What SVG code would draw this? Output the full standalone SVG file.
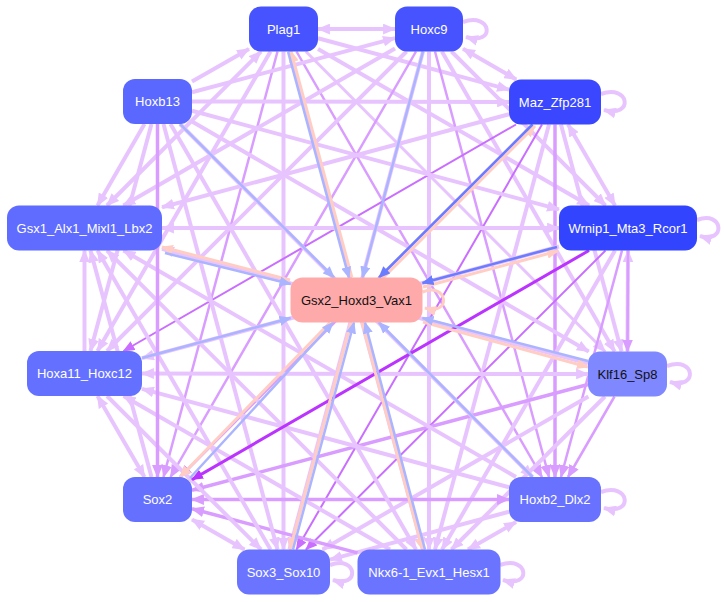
<svg xmlns="http://www.w3.org/2000/svg" width="728" height="602" viewBox="0 0 728 602">
<defs>
<marker id="mL" viewBox="0 0 12 10" refX="11" refY="5" markerWidth="13" markerHeight="11" markerUnits="userSpaceOnUse" orient="auto-start-reverse"><path d="M0,0L12,5L0,10z" fill="#e8c4ff"/></marker>
<marker id="mM" viewBox="0 0 12 10" refX="11" refY="5" markerWidth="13" markerHeight="11" markerUnits="userSpaceOnUse" orient="auto-start-reverse"><path d="M0,0L12,5L0,10z" fill="#d99cff"/></marker>
<marker id="mD" viewBox="0 0 12 10" refX="11" refY="5" markerWidth="12" markerHeight="10" markerUnits="userSpaceOnUse" orient="auto-start-reverse"><path d="M0,0L12,5L0,10z" fill="#c96eff"/></marker>
<marker id="mV" viewBox="0 0 12 10" refX="11" refY="5" markerWidth="12" markerHeight="10" markerUnits="userSpaceOnUse" orient="auto-start-reverse"><path d="M0,0L12,5L0,10z" fill="#bb33ff"/></marker>
<marker id="mB" viewBox="0 0 12 10" refX="11" refY="5" markerWidth="12" markerHeight="10" markerUnits="userSpaceOnUse" orient="auto-start-reverse"><path d="M0,0L12,5L0,10z" fill="#aab4ff"/></marker>
<marker id="mBD" viewBox="0 0 12 10" refX="11" refY="5" markerWidth="12" markerHeight="10" markerUnits="userSpaceOnUse" orient="auto-start-reverse"><path d="M0,0L12,5L0,10z" fill="#6a7dff"/></marker>
<marker id="mP" viewBox="0 0 12 10" refX="11" refY="5" markerWidth="12" markerHeight="10" markerUnits="userSpaceOnUse" orient="auto-start-reverse"><path d="M0,0L12,5L0,10z" fill="#ffcdc3"/></marker>
</defs>
<style>
#connectors line,#connectors path{fill:none}
.l{stroke:#e8c4ff;stroke-width:4;marker-end:url(#mL)}
.l2{stroke:#e8c4ff;stroke-width:3;marker-end:url(#mL)}
.m{stroke:#d99cff;stroke-width:3.5;marker-end:url(#mM)}
.m2{stroke:#d99cff;stroke-width:2.5;marker-end:url(#mM)}
.d{stroke:#c96eff;stroke-width:2;marker-end:url(#mD)}
.v{stroke:#bb33ff;stroke-width:3;marker-end:url(#mV)}
.b{stroke:#aab4ff;stroke-width:2.5;marker-end:url(#mB)}
.bd{stroke:#6a7dff;stroke-width:2.5;marker-end:url(#mBD)}
.p{stroke:#ffcdc3;stroke-width:3;marker-end:url(#mP)}
.s.l,.s.l2{marker-start:url(#mL)}
.s.m{marker-start:url(#mM)}
.node text{font-family:"Liberation Sans",Arial,sans-serif;font-size:13px;text-anchor:middle;fill:#ffffff}
.node text.k{fill:#111111}
</style>
<rect width="728" height="602" fill="#ffffff"/>
<g id="connectors">
<line class="l s" x1="318" y1="29" x2="395" y2="29"/>
<line class="l" x1="318" y1="38.3" x2="509" y2="89.6"/>
<line class="l" x1="318" y1="48.9" x2="589.1" y2="205.5"/>
<line class="l2" x1="305.9" y1="51.5" x2="605.1" y2="351.5"/>
<line class="m2" x1="296.5" y1="51.5" x2="542" y2="477"/>
<line class="l" x1="289.5" y1="51.5" x2="423" y2="549.5"/>
<line class="l" x1="283.5" y1="51.5" x2="283.5" y2="549.5"/>
<line class="m2" x1="277.5" y1="51.5" x2="163.5" y2="477"/>
<line class="l" x1="270.5" y1="51.5" x2="97.5" y2="351"/>
<line class="l s" x1="261" y1="51.5" x2="107" y2="205.5"/>
<line class="l" x1="192" y1="81.6" x2="249" y2="48.9"/>
<line class="l s" x1="463" y1="48.7" x2="516.2" y2="79.5"/>
<line class="l" x1="451.5" y1="51.5" x2="605.5" y2="205.5"/>
<line class="l" x1="441.9" y1="51.5" x2="614.6" y2="351.5"/>
<line class="m2" x1="435" y1="51.5" x2="549" y2="477"/>
<line class="l" x1="429" y1="51.5" x2="429" y2="549.5"/>
<line class="l" x1="423" y1="51.5" x2="289.5" y2="549.5"/>
<line class="m2" x1="416" y1="51.5" x2="170.5" y2="477"/>
<line class="l" x1="406.5" y1="51.5" x2="107" y2="351"/>
<line class="l" x1="395" y1="48.6" x2="123.4" y2="205.5"/>
<line class="l" x1="192" y1="92.3" x2="395" y2="38.1"/>
<line class="l s" x1="568" y1="124.5" x2="615" y2="205.5"/>
<line class="l" x1="561" y1="124.5" x2="621.5" y2="351.5"/>
<line class="m" x1="555" y1="124.5" x2="555" y2="477"/>
<line class="l" x1="549" y1="124.5" x2="435" y2="549.5"/>
<line class="d" x1="542" y1="124.5" x2="296.5" y2="549.5"/>
<line class="m2" x1="532.5" y1="124.5" x2="180" y2="477"/>
<line class="d" x1="516" y1="124.5" x2="123.5" y2="351"/>
<line class="l" x1="509" y1="114.3" x2="162" y2="207.2"/>
<line class="l" x1="192" y1="101.5" x2="509" y2="102"/>
<line class="l" x1="627.5" y1="351.5" x2="628" y2="250.5"/>
<line class="m2" x1="628" y1="250.5" x2="627.5" y2="351.5"/>
<line class="m2" x1="622" y1="250.5" x2="561" y2="477"/>
<line class="l" x1="615" y1="250.5" x2="442" y2="549.5"/>
<line class="d" x1="605.5" y1="250.5" x2="306" y2="549.5"/>
<line class="l" x1="559" y1="246.5" x2="142" y2="358.1"/>
<line class="l s" x1="559" y1="228" x2="162" y2="228"/>
<line class="l" x1="192" y1="110.8" x2="559" y2="209.4"/>
<line class="m2" x1="614.5" y1="396.5" x2="568" y2="477"/>
<line class="l" x1="605" y1="396.5" x2="451.5" y2="549.5"/>
<line class="l" x1="588.4" y1="396.5" x2="322.6" y2="549.5"/>
<line class="m" x1="588" y1="384.5" x2="192" y2="490.3"/>
<line class="l s" x1="588" y1="374" x2="142" y2="373.5"/>
<line class="l" x1="588" y1="363.4" x2="162" y2="248.8"/>
<line class="l" x1="192" y1="121.5" x2="588.7" y2="351.5"/>
<line class="l s" x1="516" y1="522" x2="468" y2="549.5"/>
<line class="l" x1="509" y1="511.8" x2="330" y2="559.6"/>
<line class="m s" x1="509" y1="499.5" x2="192" y2="499.5"/>
<line class="l" x1="509" y1="487.2" x2="142" y2="388.9"/>
<line class="l" x1="516" y1="477" x2="123.5" y2="250.5"/>
<line class="l" x1="180" y1="124" x2="532.5" y2="477"/>
<line class="m" x1="357.5" y1="552.9" x2="192" y2="508.7"/>
<line class="l" x1="390" y1="549.5" x2="123.6" y2="396"/>
<line class="l" x1="406.5" y1="549.5" x2="107" y2="250.5"/>
<line class="l" x1="170.5" y1="124" x2="416" y2="549.5"/>
<line class="l s" x1="244.4" y1="549.5" x2="192" y2="519.4"/>
<line class="l" x1="107" y1="396" x2="261" y2="549.5"/>
<line class="l" x1="270.5" y1="549.5" x2="97.5" y2="250.5"/>
<line class="l" x1="163.5" y1="124" x2="277.5" y2="549.5"/>
<line class="l s" x1="144.5" y1="477" x2="97.5" y2="396"/>
<line class="l" x1="151.5" y1="477" x2="90.5" y2="250.5"/>
<line class="m" x1="157.5" y1="124" x2="157.5" y2="477"/>
<line class="l" x1="84.5" y1="351" x2="84.5" y2="250.5"/>
<line class="l" x1="151.5" y1="124" x2="90.5" y2="351"/>
<line class="l" x1="144.5" y1="124" x2="97.5" y2="205.5"/>
<line class="v" x1="589" y1="250.5" x2="192" y2="479.6"/>
<path class="l" d="M463,22C492,12 496,46 466,37"/>
<path class="l" d="M601,94C630,84 634,118 604,110"/>
<path class="l" d="M697,220C724,210 726,244 700,236"/>
<path class="l" d="M667,366C696,356 698,390 670,382"/>
<path class="l" d="M601,492C630,482 634,516 604,508"/>
<path class="l" d="M330,565C358,555 360,589 333,580"/>
<path class="l" d="M500,565C529,555 532,589 503,580"/>
<line class="b" x1="180" y1="124" x2="334" y2="277.5"/>
<line class="p" x1="351.8" y1="277.1" x2="291" y2="51.1"/>
<line class="b" x1="288.1" y1="51.9" x2="349" y2="277.9"/>
<line class="b" x1="423" y1="51.5" x2="362.5" y2="277.5"/>
<line class="p" x1="382" y1="279" x2="535" y2="126"/>
<line class="bd" x1="532.5" y1="124.5" x2="379" y2="277.5"/>
<line class="p" x1="423" y1="287" x2="558" y2="251"/>
<line class="bd" x1="557" y1="247" x2="422.5" y2="283"/>
<line class="p" x1="290" y1="280" x2="162" y2="247"/>
<line class="b" x1="165" y1="253" x2="290.5" y2="284"/>
<line class="b" x1="142" y1="358" x2="290.5" y2="318"/>
<line class="p" x1="423" y1="322" x2="588" y2="367"/>
<line class="b" x1="588" y1="361" x2="422.5" y2="318"/>
<line class="b" x1="532.6" y1="477" x2="378.9" y2="322.5"/>
<line class="p" x1="362" y1="322.5" x2="422.5" y2="549.5"/>
<line class="b" x1="425" y1="549.5" x2="365" y2="322.5"/>
<line class="p" x1="351" y1="322.5" x2="290" y2="549.5"/>
<line class="b" x1="293" y1="549.5" x2="354" y2="322.5"/>
<line class="p" x1="330" y1="322.5" x2="180" y2="477"/>
<line class="b" x1="190" y1="478" x2="333" y2="322.5"/>
<path class="p" d="M422.5,292C448,282 452,316 425,308"/>
</g>
<g id="Plag1" class="node"><rect x="249" y="6.5" width="69" height="45" rx="12" fill="#4653ff"/><text x="283.5" y="33.5">Plag1</text></g>
<g id="Hoxc9" class="node"><rect x="395" y="6.5" width="68" height="45" rx="12" fill="#4653ff"/><text x="429" y="33.5">Hoxc9</text></g>
<g id="Maz_Zfp281" class="node"><rect x="509" y="79.5" width="92" height="45" rx="12" fill="#3a47ff"/><text x="555" y="106.5">Maz_Zfp281</text></g>
<g id="Wrnip1_Mta3_Rcor1" class="node"><rect x="559" y="205.5" width="138" height="45" rx="12" fill="#3344ff"/><text x="628" y="232.5">Wrnip1_Mta3_Rcor1</text></g>
<g id="Klf16_Sp8" class="node"><rect x="588" y="351.5" width="79" height="45" rx="12" fill="#7f88ff"/><text class="k" x="627.5" y="378.5">Klf16_Sp8</text></g>
<g id="Hoxb2_Dlx2" class="node"><rect x="509" y="477" width="92" height="45" rx="12" fill="#6872ff"/><text x="555" y="504">Hoxb2_Dlx2</text></g>
<g id="Nkx6-1_Evx1_Hesx1" class="node"><rect x="357.5" y="549.5" width="143" height="45" rx="12" fill="#6a74ff"/><text x="429" y="576.5">Nkx6-1_Evx1_Hesx1</text></g>
<g id="Sox3_Sox10" class="node"><rect x="237" y="549.5" width="93" height="45" rx="12" fill="#6a74ff"/><text x="283.5" y="576.5">Sox3_Sox10</text></g>
<g id="Sox2" class="node"><rect x="123" y="477" width="69" height="45" rx="12" fill="#6670ff"/><text x="157.5" y="504">Sox2</text></g>
<g id="Hoxa11_Hoxc12" class="node"><rect x="27" y="351" width="115" height="45" rx="12" fill="#6470ff"/><text x="84.5" y="378">Hoxa11_Hoxc12</text></g>
<g id="Gsx1_Alx1_Mixl1_Lbx2" class="node"><rect x="7" y="205.5" width="155" height="45" rx="12" fill="#5f6cff"/><text x="84.5" y="232.5">Gsx1_Alx1_Mixl1_Lbx2</text></g>
<g id="Hoxb13" class="node"><rect x="123" y="79" width="69" height="45" rx="12" fill="#5b68ff"/><text x="157.5" y="106">Hoxb13</text></g>
<g id="Gsx2_Hoxd3_Vax1" class="node"><rect x="290.5" y="277.5" width="132" height="45" rx="12" fill="#ffaaaa"/><text class="k" x="356.5" y="304.5">Gsx2_Hoxd3_Vax1</text></g>
</svg>
